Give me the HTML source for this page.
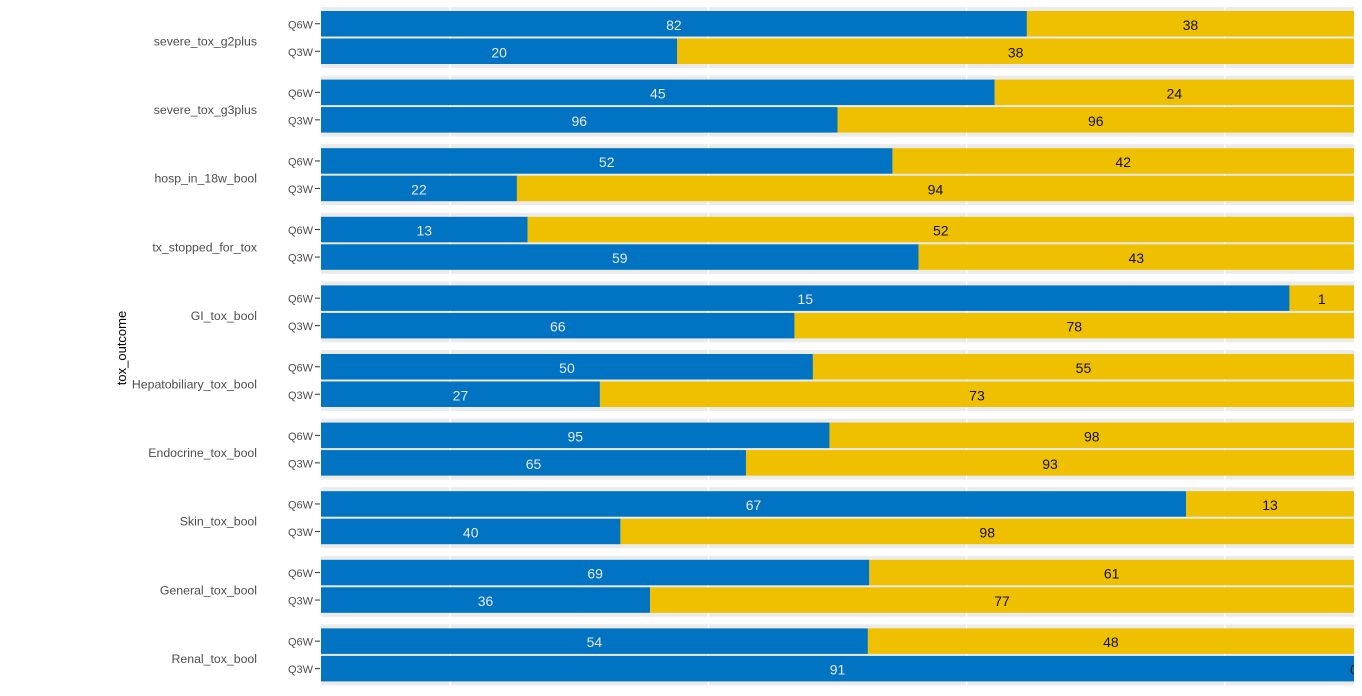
<!DOCTYPE html>
<html><head><meta charset="utf-8"><style>
body{margin:0;background:#fff;}
svg{display:block;font-family:"Liberation Sans",sans-serif;}
</style></head><body>
<svg id="chart" width="1362" height="696">
<defs><clipPath id="pc"><rect x="321" y="0" width="1033" height="696"/></clipPath></defs>
<text x="126" y="348" transform="rotate(-90 126 348)" text-anchor="middle" font-size="13" fill="#000">tox_outcome</text>
<g id="plot"></g>
</svg>
<script>
const outcomes=["severe_tox_g2plus","severe_tox_g3plus","hosp_in_18w_bool","tx_stopped_for_tox","GI_tox_bool","Hepatobiliary_tox_bool","Endocrine_tox_bool","Skin_tox_bool","General_tox_bool","Renal_tox_bool"];
const groups=["Q6W","Q3W"];
const blueQ6W=[82,45,52,13,15,50,95,67,69,54];
const yellowQ6W=[38,24,42,52,1,55,98,13,61,48];
const blueQ3W=[20,96,22,59,66,27,65,40,36,91];
const yellowQ3W=[38,96,94,43,78,73,93,98,77,0];
const gridTicks=[0.125,0.375,0.625,0.875];

const NS="http://www.w3.org/2000/svg";
const g=document.getElementById('plot');
const X0=321,W=1033,P0=7,PS=68.6,PH=61;
const xs=f=>X0+f*W;
function mk(t,a,p){const e=document.createElementNS(NS,t);for(const k in a)e.setAttribute(k,a[k]);(p||g).appendChild(e);return e;}
outcomes.forEach((o,i)=>{
  const top=P0+i*PS;
  const panel=mk('rect',{x:X0,y:top,width:W,height:PH,fill:'#ebebeb'});
  
  
  gridTicks.forEach(t=>{const l=mk('line',{x1:xs(t),x2:xs(t),y1:top,y2:top+PH,stroke:'#fff','stroke-width':1.2});
    
    });
  const lab=mk('text',{x:257,y:top+PH/2+8,'text-anchor':'end','font-size':12.3,fill:'#4d4d4d'});
  lab.textContent=o;
  
  
  groups.forEach((gr,j)=>{
    const b=j==0?blueQ6W[i]:blueQ3W[i], y=j==0?yellowQ6W[i]:yellowQ3W[i];
    const tot=b+y, fb=b/tot;
    const by=top+4+j*27.5, bh=25.5, cy=by+bh/2;
    const r1=mk('rect',{x:xs(0),y:by,width:xs(fb)-xs(0),height:bh,fill:'#0073C2'});
    
    
    const r2=mk('rect',{x:xs(fb),y:by,width:xs(1)-xs(fb),height:bh,fill:'#EFC000'});
    
    
    const t1=mk('text',{x:(xs(0)+xs(fb))/2,y:cy+6,'text-anchor':'middle','font-size':14,fill:'#e8e8e8'});
    t1.textContent=b;
    
    
    const t2=mk('text',{x:(xs(fb)+xs(1))/2,y:cy+6,'text-anchor':'middle','font-size':14,fill:'#111','clip-path':'url(#pc)'});
    t2.textContent=y;
    
    
    const tk=mk('line',{x1:315,x2:320,y1:cy,y2:cy,stroke:'#333','stroke-width':1});
    
    
    const gl=mk('text',{x:313,y:cy+4.5,'text-anchor':'end','font-size':11,fill:'#4d4d4d'});
    gl.textContent=gr;
    
    
  });
});
</script>
</body></html>
